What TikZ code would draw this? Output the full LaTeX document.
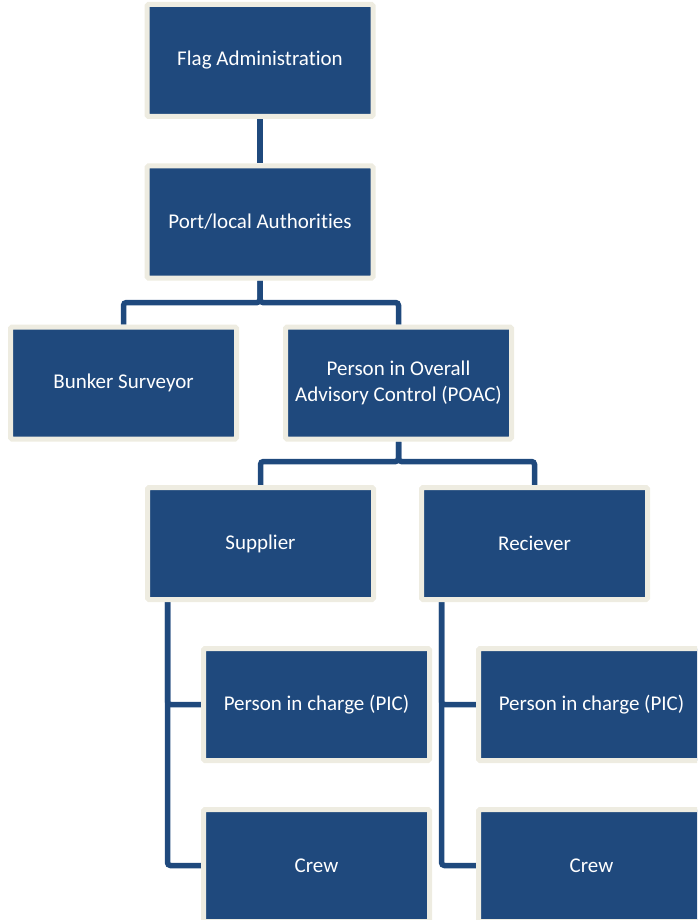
\documentclass[tikz,border=0pt]{standalone}
\usepackage{fontspec}
\setmainfont{Carlito}[Ligatures=NoCommon]
\usepackage{tikz}
\usetikzlibrary{backgrounds,calc}
\definecolor{boxblue}{RGB}{31,73,125}
\definecolor{boxcream}{RGB}{238,236,225}
\tikzset{
  orgbox/.style={draw=boxcream, line width=5pt, fill=boxblue, text=white,
    rounded corners=1.5pt, minimum width=226pt, minimum height=112pt,
    align=center, font=\fontsize{21}{25.5}\selectfont},
  conn/.style={draw=boxblue, line width=5.5pt, rounded corners=3pt}
}
\begin{document}
\begin{tikzpicture}[x=1pt,y=-1pt]
  \clip (0,0) rectangle (697,920);
  \useasboundingbox (0,0) rectangle (697,920);
  \node[orgbox] (flag) at (260,60.5) {Flag Administration};
  \node[orgbox] (port) at (260,222) {Port/local Authorities};
  \node[orgbox] (bunker) at (123.5,383) {Bunker Surveyor};
  \node[orgbox] (poac) at (398.5,383) {Person in Overall\\Advisory Control (POAC)};
  \node[orgbox] (supplier) at (260.5,543.5) {Supplier};
  \node[orgbox] (receiver) at (534.5,543.5) {Reciever};
  \node[orgbox] (pic1) at (316.5,704.5) {Person in charge (PIC)};
  \node[orgbox] (crew1) at (316.5,865.5) {Crew};
  \node[orgbox] (pic2) at (591.5,704.5) {Person in charge (PIC)};
  \node[orgbox] (crew2) at (591.5,865.5) {Crew};
  \begin{scope}[on background layer]
    \draw[conn] (flag.south) -- (port.north);
    \draw[conn] (port.south) -- ++(0,22) -| (bunker.north);
    \draw[conn] (port.south) -- ++(0,22) -| (poac.north);
    \draw[conn] (poac.south) -- ++(0,20) -| (supplier.north);
    \draw[conn] (poac.south) -- ++(0,20) -| (receiver.north);
    \draw[conn] ([xshift=22.5pt]supplier.south west) |- (pic1.west);
    \draw[conn] ([xshift=22.5pt]supplier.south west) |- (crew1.west);
    \draw[conn] ([xshift=22.5pt]receiver.south west) |- (pic2.west);
    \draw[conn] ([xshift=22.5pt]receiver.south west) |- (crew2.west);
  \end{scope}
\end{tikzpicture}
\end{document}
